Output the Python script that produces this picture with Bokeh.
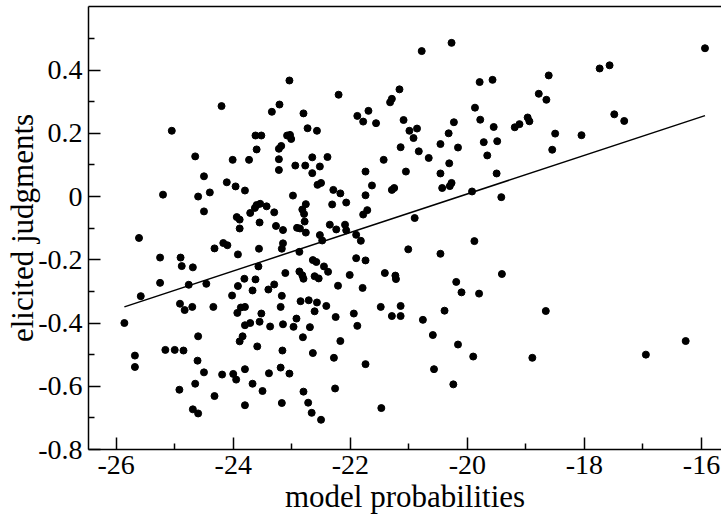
from bokeh.plotting import figure
from bokeh.models import Range1d, FixedTicker, LinearAxis, CustomJSTickFormatter
from bokeh.embed import file_html
from bokeh.resources import INLINE

points = [
    (-24.20, 0.286), (-25.05, 0.208), (-24.65, 0.127), (-24.01, 0.116),
    (-23.04, 0.367), (-22.20, 0.322), (-21.16, 0.339), (-21.29, 0.309), (-21.32, 0.298),
    (-23.21, 0.291), (-23.34, 0.268), (-22.80, 0.263), (-21.88, 0.255), (-21.69, 0.271),
    (-21.78, 0.237), (-21.56, 0.232), (-21.09, 0.242), (-22.73, 0.216), (-22.57, 0.208),
    (-23.62, 0.193), (-23.52, 0.193), (-23.08, 0.193), (-23.03, 0.195), (-23.01, 0.182),
    (-23.60, 0.149), (-23.22, 0.151), (-23.18, 0.160), (-21.14, 0.156), (-23.73, 0.116),
    (-23.22, 0.118), (-22.65, 0.124), (-22.39, 0.125), (-21.43, 0.116),
    (-20.27, 0.486), (-20.78, 0.460), (-19.79, 0.362), (-19.57, 0.369), (-18.61, 0.383),
    (-18.78, 0.325), (-18.65, 0.306), (-19.87, 0.281), (-19.78, 0.243), (-20.23, 0.235),
    (-20.99, 0.208), (-20.86, 0.215), (-20.92, 0.185), (-20.32, 0.200), (-19.55, 0.220),
    (-19.19, 0.219), (-19.11, 0.229), (-18.97, 0.250), (-18.94, 0.238), (-18.50, 0.199),
    (-20.46, 0.166), (-20.16, 0.155), (-19.72, 0.172), (-19.49, 0.175), (-20.83, 0.143),
    (-19.66, 0.130), (-18.55, 0.148), (-20.66, 0.122), (-20.31, 0.105),
    (-15.94, 0.469), (-17.74, 0.405), (-17.57, 0.415), (-17.49, 0.260), (-17.32, 0.239),
    (-18.05, 0.194),
    (-24.50, 0.064), (-24.11, 0.045), (-23.96, 0.032), (-23.80, 0.019), (-25.20, 0.006),
    (-24.60, 0.000), (-24.40, 0.013), (-24.50, -0.047), (-23.94, -0.065), (-23.89, -0.073),
    (-23.89, -0.101), (-25.61, -0.131), (-24.32, -0.164), (-24.17, -0.147), (-24.10, -0.154),
    (-23.92, -0.183), (-25.25, -0.193), (-24.90, -0.193), (-24.88, -0.220), (-24.69, -0.224),
    (-23.81, -0.260), (-25.25, -0.273), (-24.76, -0.279), (-24.46, -0.276), (-23.92, -0.283),
    (-25.58, -0.315), (-24.02, -0.313), (-24.91, -0.339), (-24.83, -0.359), (-24.70, -0.349),
    (-24.34, -0.349), (-23.93, -0.368), (-23.87, -0.351), (-23.80, -0.349),
    (-22.94, 0.098), (-22.77, 0.098), (-22.52, 0.095), (-23.22, 0.084), (-22.65, 0.074),
    (-21.74, 0.079), (-22.56, 0.037), (-22.50, 0.043), (-21.63, 0.035), (-21.29, 0.021),
    (-21.25, 0.027), (-22.29, 0.021), (-22.17, 0.010), (-22.98, 0.003), (-21.74, 0.004),
    (-22.31, -0.025), (-22.07, -0.019), (-22.76, -0.024), (-22.82, -0.041), (-23.60, -0.027),
    (-23.54, -0.023), (-23.43, -0.031), (-23.63, -0.036), (-23.71, -0.052), (-23.30, -0.050),
    (-22.79, -0.055), (-21.78, -0.057), (-21.71, -0.043), (-22.78, -0.079), (-23.55, -0.082),
    (-23.27, -0.093), (-23.15, -0.106), (-22.91, -0.099), (-22.86, -0.101), (-22.76, -0.114),
    (-22.35, -0.089), (-22.24, -0.104), (-22.09, -0.089), (-22.07, -0.107), (-21.90, -0.121),
    (-22.52, -0.122), (-22.48, -0.139), (-21.82, -0.140), (-23.15, -0.148), (-23.17, -0.165),
    (-23.56, -0.165), (-22.87, -0.175), (-21.90, -0.195), (-21.74, -0.202), (-22.64, -0.201),
    (-22.58, -0.207), (-22.45, -0.221), (-22.38, -0.238), (-23.57, -0.221), (-23.11, -0.242),
    (-22.87, -0.237), (-22.82, -0.249), (-22.80, -0.260), (-22.61, -0.252), (-22.54, -0.259),
    (-22.01, -0.248), (-21.41, -0.242), (-21.23, -0.250), (-21.22, -0.261), (-23.62, -0.262),
    (-23.30, -0.278), (-23.40, -0.294), (-23.67, -0.297), (-22.21, -0.282), (-21.79, -0.289),
    (-23.17, -0.314), (-22.85, -0.331), (-22.71, -0.328), (-22.57, -0.335), (-22.41, -0.346),
    (-23.19, -0.349), (-21.48, -0.349), (-21.14, -0.346), (-23.52, -0.370), (-22.61, -0.363),
    (-21.94, -0.370), (-21.29, -0.378), (-21.14, -0.378), (-22.25, -0.381), (-22.92, -0.386),
    (-21.05, 0.079), (-20.46, 0.073), (-19.50, 0.073), (-20.27, 0.043), (-20.30, 0.033),
    (-20.43, 0.027), (-19.92, 0.016), (-19.42, -0.002), (-20.90, -0.068), (-19.88, -0.141),
    (-21.01, -0.167), (-20.46, -0.181), (-19.41, -0.245), (-20.19, -0.270), (-20.10, -0.303),
    (-19.80, -0.307), (-20.39, -0.361), (-18.66, -0.362), (-20.76, -0.390),
    (-25.86, -0.400), (-25.68, -0.503), (-25.68, -0.539), (-25.16, -0.485), (-25.00, -0.485),
    (-24.85, -0.487), (-24.60, -0.442), (-24.61, -0.519), (-24.50, -0.556), (-24.92, -0.611),
    (-24.65, -0.592), (-24.32, -0.631), (-24.19, -0.563), (-24.00, -0.561), (-23.95, -0.579),
    (-24.69, -0.673), (-24.60, -0.686), (-23.80, -0.407), (-23.84, -0.442), (-23.89, -0.458),
    (-23.80, -0.546), (-23.80, -0.660),
    (-23.71, -0.400), (-23.55, -0.396), (-23.37, -0.411), (-23.15, -0.404), (-22.97, -0.412),
    (-22.69, -0.413), (-22.81, -0.445), (-21.88, -0.409), (-23.59, -0.474), (-23.16, -0.487),
    (-22.64, -0.495), (-22.17, -0.457), (-22.28, -0.510), (-21.74, -0.530), (-23.39, -0.559),
    (-23.19, -0.541), (-23.04, -0.560), (-23.67, -0.592), (-23.50, -0.615), (-22.80, -0.617),
    (-22.26, -0.607), (-23.17, -0.653), (-22.72, -0.652), (-22.66, -0.684), (-22.50, -0.706),
    (-21.47, -0.669),
    (-20.59, -0.438), (-20.16, -0.468), (-19.90, -0.506), (-18.89, -0.510), (-20.57, -0.546),
    (-20.24, -0.594),
    (-16.95, -0.500), (-16.27, -0.457),
]
model_probabilities = [p_[0] for p_ in points]
elicited_judgments = [p_[1] for p_ in points]

fit_x = [-25.86, -15.94]
fit_y = [-0.349, 0.256]

x_ticks = [-26, -24, -22, -20, -18, -16]
x_minor_ticks = [-25, -23, -21, -19, -17]
y_ticks = [-0.8, -0.6, -0.4, -0.2, 0, 0.2, 0.4]
y_minor_ticks = [-0.7, -0.5, -0.3, -0.1, 0.1, 0.3, 0.5]

FONT = "Liberation Serif"

p = figure(width=721, height=516, output_backend="svg", toolbar_location=None,
           x_range=Range1d(-26.473, -15.658), y_range=Range1d(-0.8, 0.601),
           min_border_left=88, min_border_right=0, min_border_top=6, min_border_bottom=66,
           x_axis_label="model probabilities", y_axis_label="elicited judgments")
p.grid.visible = False
p.outline_line_color = None
p.background_fill_color = "white"
p.border_fill_color = "white"

p.xaxis.ticker = FixedTicker(ticks=x_ticks, minor_ticks=x_minor_ticks)
p.yaxis.ticker = FixedTicker(ticks=y_ticks, minor_ticks=y_minor_ticks)
p.xaxis.formatter = CustomJSTickFormatter(code="return Math.round(tick).toString();")
p.yaxis.formatter = CustomJSTickFormatter(code="""
const v = Math.round(tick * 10) / 10;
return v === 0 ? "0" : v.toFixed(1);
""")

for ax in (p.xaxis[0], p.yaxis[0]):
    ax.axis_line_color = "black"
    ax.axis_line_width = 1.5
    ax.major_tick_line_color = "black"
    ax.major_tick_line_width = 1.5
    ax.minor_tick_line_color = "black"
    ax.minor_tick_line_width = 1.5
    ax.major_tick_in = 12
    ax.major_tick_out = 0
    ax.minor_tick_in = 6
    ax.minor_tick_out = 0
    ax.major_label_text_font = FONT
    ax.major_label_text_font_size = "28px"
    ax.major_label_text_color = "black"
    ax.axis_label_text_font = FONT
    ax.axis_label_text_font_size = "31px"
    ax.axis_label_text_font_style = "normal"
    ax.axis_label_text_color = "black"

p.xaxis.major_label_standoff = 6
p.xaxis.axis_label_standoff = 2
p.yaxis.major_label_standoff = 6
p.yaxis.axis_label_standoff = -5

top = LinearAxis(ticker=FixedTicker(ticks=[]), major_tick_in=0, major_tick_out=0,
                 minor_tick_in=0, minor_tick_out=0, major_label_text_font_size="0px",
                 major_label_standoff=0, axis_line_color="black", axis_line_width=1.5)
p.add_layout(top, "above")

p.line(fit_x, fit_y, line_color="black", line_width=1.5)
p.scatter(model_probabilities, elicited_judgments, size=7, color="black")

open("out.html", "w").write(file_html(p, INLINE))
